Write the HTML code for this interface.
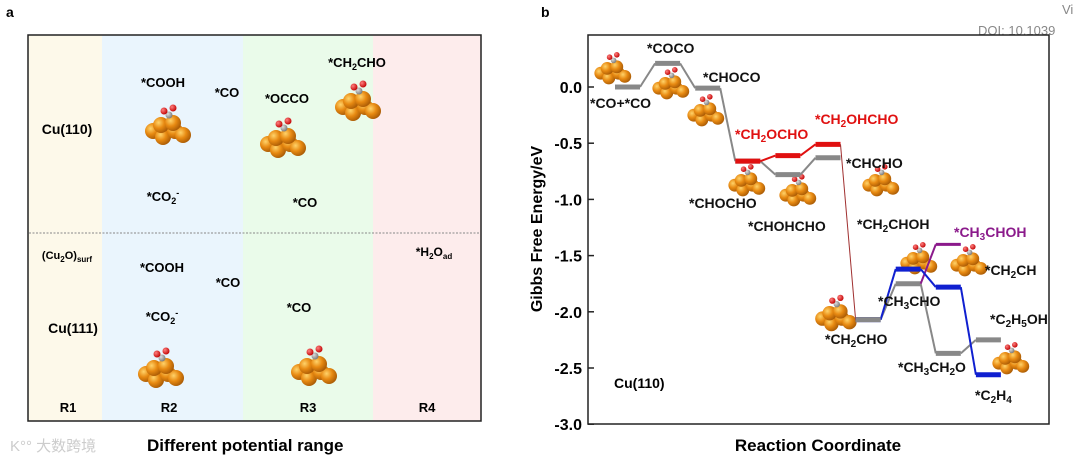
<!DOCTYPE html>
<html><head><meta charset="utf-8">
<style>
html,body{margin:0;padding:0;background:#fff;}
svg{display:block;font-family:"Liberation Sans","Noto Sans CJK SC",sans-serif;font-weight:bold;}
</style></head>
<body>
<svg id="fig" width="1080" height="466" viewBox="0 0 1080 466">
<defs>
<radialGradient id="cu" cx="0.35" cy="0.35" r="0.7"><stop offset="0" stop-color="#ffd36a"/><stop offset="0.5" stop-color="#e88a12"/><stop offset="1" stop-color="#a85a05"/></radialGradient>
<radialGradient id="ox" cx="0.35" cy="0.35" r="0.7"><stop offset="0" stop-color="#ff8080"/><stop offset="1" stop-color="#c00000"/></radialGradient>
<radialGradient id="ca" cx="0.35" cy="0.35" r="0.7"><stop offset="0" stop-color="#ddd"/><stop offset="1" stop-color="#777"/></radialGradient>
</defs>
<!-- Panel a -->
<g>
<text x="6" y="17" font-size="14">a</text>
<rect x="28" y="35" width="74" height="386" fill="#fdf9ea"/>
<rect x="102" y="35" width="141" height="386" fill="#eaf5fd"/>
<rect x="243" y="35" width="130" height="386" fill="#eafbea"/>
<rect x="373" y="35" width="108" height="386" fill="#fdecec"/>
<rect x="28" y="35" width="453" height="386" fill="none" stroke="#222" stroke-width="1.5"/>
<line x1="29" y1="233" x2="480" y2="233" stroke="#888" stroke-dasharray="2,1.5"/>
<g font-size="13" text-anchor="middle">
<text x="67" y="134" font-size="14">Cu(110)</text>
<text x="163" y="87">*COOH</text>
<text x="227" y="97">*CO</text>
<text x="287" y="103">*OCCO</text>
<text x="357" y="67">*CH<tspan font-size="9" dy="3">2</tspan><tspan dy="-3">CHO</tspan></text>
<text x="163" y="201">*CO<tspan font-size="9" dy="3">2</tspan><tspan font-size="9" dy="-8">-</tspan></text>
<text x="305" y="207">*CO</text>
<text x="67" y="259" font-size="11">(Cu<tspan font-size="8" dy="3">2</tspan><tspan dy="-3">O)</tspan><tspan font-size="8" dy="3">surf</tspan></text>
<text x="162" y="272">*COOH</text>
<text x="228" y="287">*CO</text>
<text x="162" y="321">*CO<tspan font-size="9" dy="3">2</tspan><tspan font-size="9" dy="-8">-</tspan></text>
<text x="299" y="312">*CO</text>
<text x="434" y="256" font-size="12">*H<tspan font-size="8" dy="3">2</tspan><tspan dy="-3">O</tspan><tspan font-size="8" dy="3">ad</tspan></text>
<text x="73" y="333" font-size="14">Cu(111)</text>
<text x="68" y="412">R1</text>
<text x="169" y="412">R2</text>
<text x="308" y="412">R3</text>
<text x="427" y="412">R4</text>
</g>
<text x="10" y="451" font-size="15" fill="#ccc" font-weight="normal">K°° 大数跨境</text>
<text x="147" y="451" font-size="17">Different potential range</text>
</g>
<g id="clusters"></g>
<!-- Panel b -->
<g id="pb">
<text x="541" y="17" font-size="14">b</text>
<text x="1062" y="14" font-size="13" fill="#888" font-weight="normal">Vi</text>
<text x="978" y="35" font-size="13" fill="#888" font-weight="normal">DOI: 10.1039</text>
<rect x="588" y="35" width="461" height="389" fill="none" stroke="#222" stroke-width="1.5"/>
<text transform="translate(542,229) rotate(-90)" font-size="16" text-anchor="middle">Gibbs Free Energy/eV</text>
<text x="818" y="451" font-size="17" text-anchor="middle">Reaction Coordinate</text>
<text x="614" y="388" font-size="14">Cu(110)</text>
</g>
</svg>
<script>
const yTicks = [0.0, -0.5, -1.0, -1.5, -2.0, -2.5, -3.0];
const tickLabels = ["0.0", "-0.5", "-1.0", "-1.5", "-2.0", "-2.5", "-3.0"];
const levelNames = ["CO+CO","COCO","CHOCO","CHOCHO","CHOHCHO","CH2OCHO","CH2OHCHO","CHCHO","CH2CHO","CH3CHO","CH2CHOH","CH3CHOH","CH2CH","CH3CH2O","C2H5OH","C2H4"];
const levelSlots = [0,1,2,3,4,4,5,5,6,7,7,8,8,8,9,9];
const levelEnergies = [0.0,0.21,-0.01,-0.66,-0.78,-0.61,-0.51,-0.63,-2.07,-1.75,-1.62,-1.40,-1.78,-2.37,-2.25,-2.56];
const grayPath = ["CO+CO","COCO","CHOCO","CHOCHO","CHOHCHO","CHCHO"];
const grayPath2 = ["CH2CHO","CH3CHO","CH3CH2O","C2H5OH"];
const redPath = ["CHOCHO","CH2OCHO","CH2OHCHO","CH2CHO"];
const bluePath = ["CH2CHO","CH2CHOH","CH2CH","C2H4"];
const purplePath = ["CH3CHO","CH3CHOH"];

const NS = "http://www.w3.org/2000/svg";
const pb = document.getElementById("pb");
const y = e => 87 - e * 112.4;
const x = s => 615 + s * 40.1;
const W = 25;
function mk(tag, attrs, parent) { const el = document.createElementNS(NS, tag); for (const k in attrs) el.setAttribute(k, attrs[k]); parent.appendChild(el); return el; }
yTicks.forEach((t, i) => {
  const tk = mk("line", {x1: 588, x2: 594, y1: y(t), y2: y(t), stroke: "#222", "stroke-width": 1.5}, pb);
  
  
  const tl = mk("text", {x: 582, y: y(t) + 6, "font-size": 16, "text-anchor": "end"}, pb);
  tl.textContent = tickLabels[i];
  
  
});
const idx = n => levelNames.indexOf(n);
function drawPath(path, color, thin, lvlColor) {
  for (let i = 0; i < path.length - 1; i++) {
    const a = idx(path[i]), b = idx(path[i + 1]);
    const c = mk("line", {x1: x(levelSlots[a]) + W, y1: y(levelEnergies[a]), x2: x(levelSlots[b]), y2: y(levelEnergies[b]), stroke: color, "stroke-width": thin}, pb);
    
    
  }
  path.forEach((n, i) => {
    if (lvlColor === null) return;
    const k = idx(n);
    const l = mk("line", {x1: x(levelSlots[k]), x2: x(levelSlots[k]) + W, y1: y(levelEnergies[k]), y2: y(levelEnergies[k]), stroke: lvlColor, "stroke-width": 5}, pb);
    
    
  });
}
drawPath(grayPath, "#888", 2, "#888");
drawPath(grayPath2, "#888", 2, "#888");
drawPath(purplePath, "#8b1a8b", 2, null);
drawPath(redPath.slice(0, 3), "#e01010", 2, "#e01010");
drawPath(redPath.slice(2), "#a03030", 1, null);
drawPath(bluePath, "#1020d0", 2, "#1020d0");
{ const k = idx("CH3CHOH"); const l = mk("line", {x1: x(levelSlots[k]), x2: x(levelSlots[k]) + W, y1: y(levelEnergies[k]), y2: y(levelEnergies[k]), stroke: "#8b1a8b", "stroke-width": 3}, pb);
  
   }
{ const k = idx("CH2CHO"); const l = mk("line", {x1: x(levelSlots[k]), x2: x(levelSlots[k]) + W, y1: y(levelEnergies[k]), y2: y(levelEnergies[k]), stroke: "#888", "stroke-width": 5}, pb);
  
   }

// state labels
const labels = [
 [590,108,"*CO+*CO","#111"],[647,53,"*COCO","#111"],[703,82,"*CHOCO","#111"],
 [735,139,"*CH<tspan font-size='10' dy='3'>2</tspan><tspan dy='-3'>OCHO</tspan>","#e01010"],
 [815,124,"*CH<tspan font-size='10' dy='3'>2</tspan><tspan dy='-3'>OHCHO</tspan>","#e01010"],
 [846,168,"*CHCHO","#111"],[689,208,"*CHOCHO","#111"],[748,231,"*CHOHCHO","#111"],
 [857,229,"*CH<tspan font-size='10' dy='3'>2</tspan><tspan dy='-3'>CHOH</tspan>","#111"],
 [954,237,"*CH<tspan font-size='10' dy='3'>3</tspan><tspan dy='-3'>CHOH</tspan>","#8b1a8b"],
 [985,275,"*CH<tspan font-size='10' dy='3'>2</tspan><tspan dy='-3'>CH</tspan>","#111"],
 [878,306,"*CH<tspan font-size='10' dy='3'>3</tspan><tspan dy='-3'>CHO</tspan>","#111"],
 [990,324,"*C<tspan font-size='10' dy='3'>2</tspan><tspan dy='-3'>H</tspan><tspan font-size='10' dy='3'>5</tspan><tspan dy='-3'>OH</tspan>","#111"],
 [825,344,"*CH<tspan font-size='10' dy='3'>2</tspan><tspan dy='-3'>CHO</tspan>","#111"],
 [898,372,"*CH<tspan font-size='10' dy='3'>3</tspan><tspan dy='-3'>CH</tspan><tspan font-size='10' dy='3'>2</tspan><tspan dy='-3'>O</tspan>","#111"],
 [975,400,"*C<tspan font-size='10' dy='3'>2</tspan><tspan dy='-3'>H</tspan><tspan font-size='10' dy='3'>4</tspan>","#111"]
];
labels.forEach(l => {
  const t = mk("text", {x: l[0], y: l[1], "font-size": 14, fill: l[3]}, pb);
  t.innerHTML = l[2];
  
  
});

// adsorbate cluster illustrations
const cg = document.getElementById("clusters");
const clusters = [[167,127,1],[282,140,1],[357,103,1],[160,370,1],[313,368,1],
 [612,70,0.8],[670,85,0.8],[705,112,0.8],[746,182,0.8],[797,192,0.8],[880,182,0.8],[835,315,0.9],[918,260,0.8],[968,262,0.8],[1010,360,0.8]];
clusters.forEach(c => {
  const g = mk("g", {transform: `translate(${c[0]},${c[1]}) scale(${c[2]})`}, cg);
  
  
  [[-14,4],[-4,10],[8,4],[16,8],[-6,-2],[6,-4]].forEach(p => mk("circle", {cx: p[0], cy: p[1], r: 8, fill: "url(#cu)"}, g));
  mk("circle", {cx: 2, cy: -12, r: 3.5, fill: "url(#ca)"}, g);
  mk("circle", {cx: -3, cy: -16, r: 3.5, fill: "url(#ox)"}, g);
  mk("circle", {cx: 6, cy: -19, r: 3.5, fill: "url(#ox)"}, g);
});
</script>
</body></html>
